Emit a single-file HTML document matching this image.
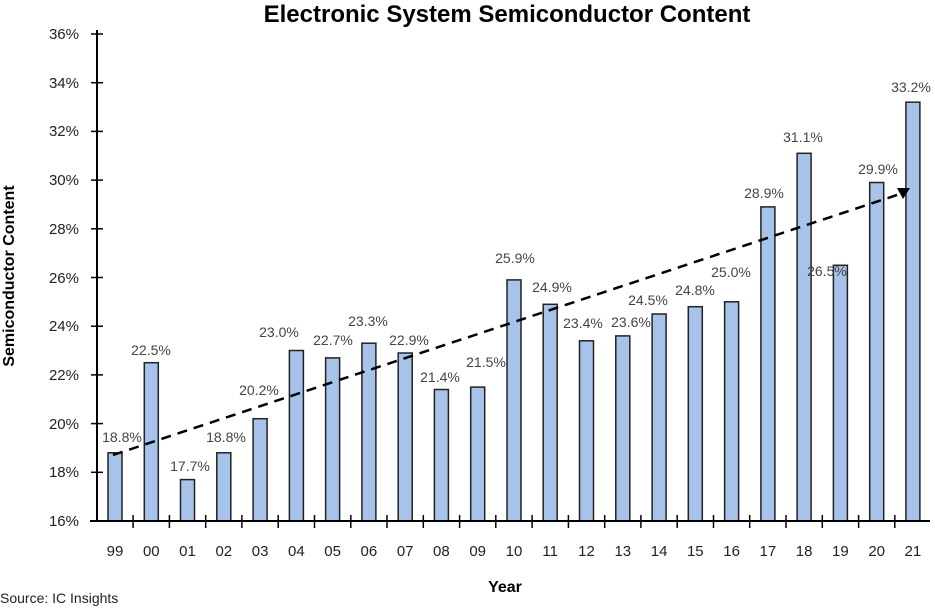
<!DOCTYPE html>
<html><head><meta charset="utf-8"><style>body{margin:0;background:#fff}svg{display:block}</style></head><body>
<svg width="935" height="609" xmlns="http://www.w3.org/2000/svg" font-family="Liberation Sans, Arial, sans-serif">
<rect width="935" height="609" fill="#fff"/>
<text x="507" y="22" font-size="24" font-weight="bold" text-anchor="middle" fill="#000">Electronic System Semiconductor Content</text>
<g font-size="15" fill="#222" text-anchor="end">
<text x="79" y="526">16%</text><text x="79" y="477">18%</text><text x="79" y="429">20%</text><text x="79" y="380">22%</text><text x="79" y="331">24%</text><text x="79" y="283">26%</text><text x="79" y="234">28%</text><text x="79" y="185">30%</text><text x="79" y="136">32%</text><text x="79" y="88">34%</text><text x="79" y="39">36%</text>
</g>
<g stroke="#000" stroke-width="1.5">
<line x1="91" y1="472.3" x2="103" y2="472.3"/><line x1="91" y1="423.6" x2="103" y2="423.6"/><line x1="91" y1="374.9" x2="103" y2="374.9"/><line x1="91" y1="326.2" x2="103" y2="326.2"/><line x1="91" y1="277.5" x2="103" y2="277.5"/><line x1="91" y1="228.8" x2="103" y2="228.8"/><line x1="91" y1="180.1" x2="103" y2="180.1"/><line x1="91" y1="131.4" x2="103" y2="131.4"/><line x1="91" y1="82.7" x2="103" y2="82.7"/><line x1="91" y1="34" x2="103" y2="34"/>
</g>
<g fill="#a7c3ea" stroke="#222" stroke-width="1.5">
<rect x="108" y="452.8" width="14" height="68.2"/>
<rect x="144.3" y="362.7" width="14" height="158.3"/>
<rect x="180.5" y="479.6" width="14" height="41.4"/>
<rect x="216.8" y="452.8" width="14" height="68.2"/>
<rect x="253.1" y="418.7" width="14" height="102.3"/>
<rect x="289.4" y="350.5" width="14" height="170.5"/>
<rect x="325.6" y="357.9" width="14" height="163.1"/>
<rect x="361.9" y="343.2" width="14" height="177.8"/>
<rect x="398.2" y="353" width="14" height="168"/>
<rect x="434.4" y="389.5" width="14" height="131.5"/>
<rect x="470.7" y="387.1" width="14" height="133.9"/>
<rect x="507" y="279.9" width="14" height="241.1"/>
<rect x="543.2" y="304.3" width="14" height="216.7"/>
<rect x="579.5" y="340.8" width="14" height="180.2"/>
<rect x="615.8" y="335.9" width="14" height="185.1"/>
<rect x="652.1" y="314" width="14" height="207"/>
<rect x="688.3" y="306.7" width="14" height="214.3"/>
<rect x="724.6" y="301.8" width="14" height="219.2"/>
<rect x="760.9" y="206.9" width="14" height="314.1"/>
<rect x="797.1" y="153.3" width="14" height="367.7"/>
<rect x="833.4" y="265.3" width="14" height="255.7"/>
<rect x="869.7" y="182.5" width="14" height="338.5"/>
<rect x="905.9" y="102.2" width="14" height="418.8"/>
</g>
<g font-size="14" fill="#444" text-anchor="middle">
<text x="122" y="442">18.8%</text><text x="151" y="355">22.5%</text><text x="190" y="471">17.7%</text><text x="226" y="442">18.8%</text><text x="259" y="395">20.2%</text><text x="279" y="337">23.0%</text><text x="333" y="345">22.7%</text><text x="368" y="326">23.3%</text><text x="409" y="345">22.9%</text><text x="440" y="382">21.4%</text><text x="486" y="367">21.5%</text><text x="515" y="263">25.9%</text><text x="552" y="292">24.9%</text><text x="583" y="328">23.4%</text><text x="631" y="327">23.6%</text><text x="648" y="305">24.5%</text><text x="695" y="295">24.8%</text><text x="731" y="277">25.0%</text><text x="764" y="198">28.9%</text><text x="803" y="142">31.1%</text><text x="827" y="276">26.5%</text><text x="878" y="174">29.9%</text><text x="911" y="92">33.2%</text>
</g>
<g font-size="15" fill="#222" text-anchor="middle">
<text x="115" y="556">99</text><text x="151.3" y="556">00</text><text x="187.5" y="556">01</text><text x="223.8" y="556">02</text><text x="260.1" y="556">03</text><text x="296.4" y="556">04</text><text x="332.6" y="556">05</text><text x="368.9" y="556">06</text><text x="405.2" y="556">07</text><text x="441.4" y="556">08</text><text x="477.7" y="556">09</text><text x="514" y="556">10</text><text x="550.2" y="556">11</text><text x="586.5" y="556">12</text><text x="622.8" y="556">13</text><text x="659.1" y="556">14</text><text x="695.3" y="556">15</text><text x="731.6" y="556">16</text><text x="767.9" y="556">17</text><text x="804.1" y="556">18</text><text x="840.4" y="556">19</text><text x="876.7" y="556">20</text><text x="912.9" y="556">21</text>
</g>
<g stroke="#000" stroke-width="1.5">
<line x1="133.1" y1="515" x2="133.1" y2="528"/><line x1="169.4" y1="515" x2="169.4" y2="528"/><line x1="205.7" y1="515" x2="205.7" y2="528"/><line x1="241.9" y1="515" x2="241.9" y2="528"/><line x1="278.2" y1="515" x2="278.2" y2="528"/><line x1="314.5" y1="515" x2="314.5" y2="528"/><line x1="350.8" y1="515" x2="350.8" y2="528"/><line x1="387" y1="515" x2="387" y2="528"/><line x1="423.3" y1="515" x2="423.3" y2="528"/><line x1="459.6" y1="515" x2="459.6" y2="528"/><line x1="495.8" y1="515" x2="495.8" y2="528"/><line x1="532.1" y1="515" x2="532.1" y2="528"/><line x1="568.4" y1="515" x2="568.4" y2="528"/><line x1="604.7" y1="515" x2="604.7" y2="528"/><line x1="640.9" y1="515" x2="640.9" y2="528"/><line x1="677.2" y1="515" x2="677.2" y2="528"/><line x1="713.5" y1="515" x2="713.5" y2="528"/><line x1="749.7" y1="515" x2="749.7" y2="528"/><line x1="786" y1="515" x2="786" y2="528"/><line x1="822.3" y1="515" x2="822.3" y2="528"/><line x1="858.6" y1="515" x2="858.6" y2="528"/><line x1="894.8" y1="515" x2="894.8" y2="528"/>
</g>
<line x1="97" y1="30" x2="97" y2="521" stroke="#000" stroke-width="2"/>
<line x1="90" y1="521" x2="930" y2="521" stroke="#000" stroke-width="2"/>
<line x1="113" y1="455" x2="900" y2="194" stroke="#000" stroke-width="2.5" stroke-dasharray="10,7"/>
<polygon points="910,188 897,188 903,199" fill="#000"/>
<text x="14" y="276" font-size="16" font-weight="bold" text-anchor="middle" transform="rotate(-90 14 276)">Semiconductor Content</text>
<text x="505" y="592" font-size="16" font-weight="bold" text-anchor="middle">Year</text>
<text x="0" y="603" font-size="14" fill="#222">Source: IC Insights</text>
</svg>
</body></html>
